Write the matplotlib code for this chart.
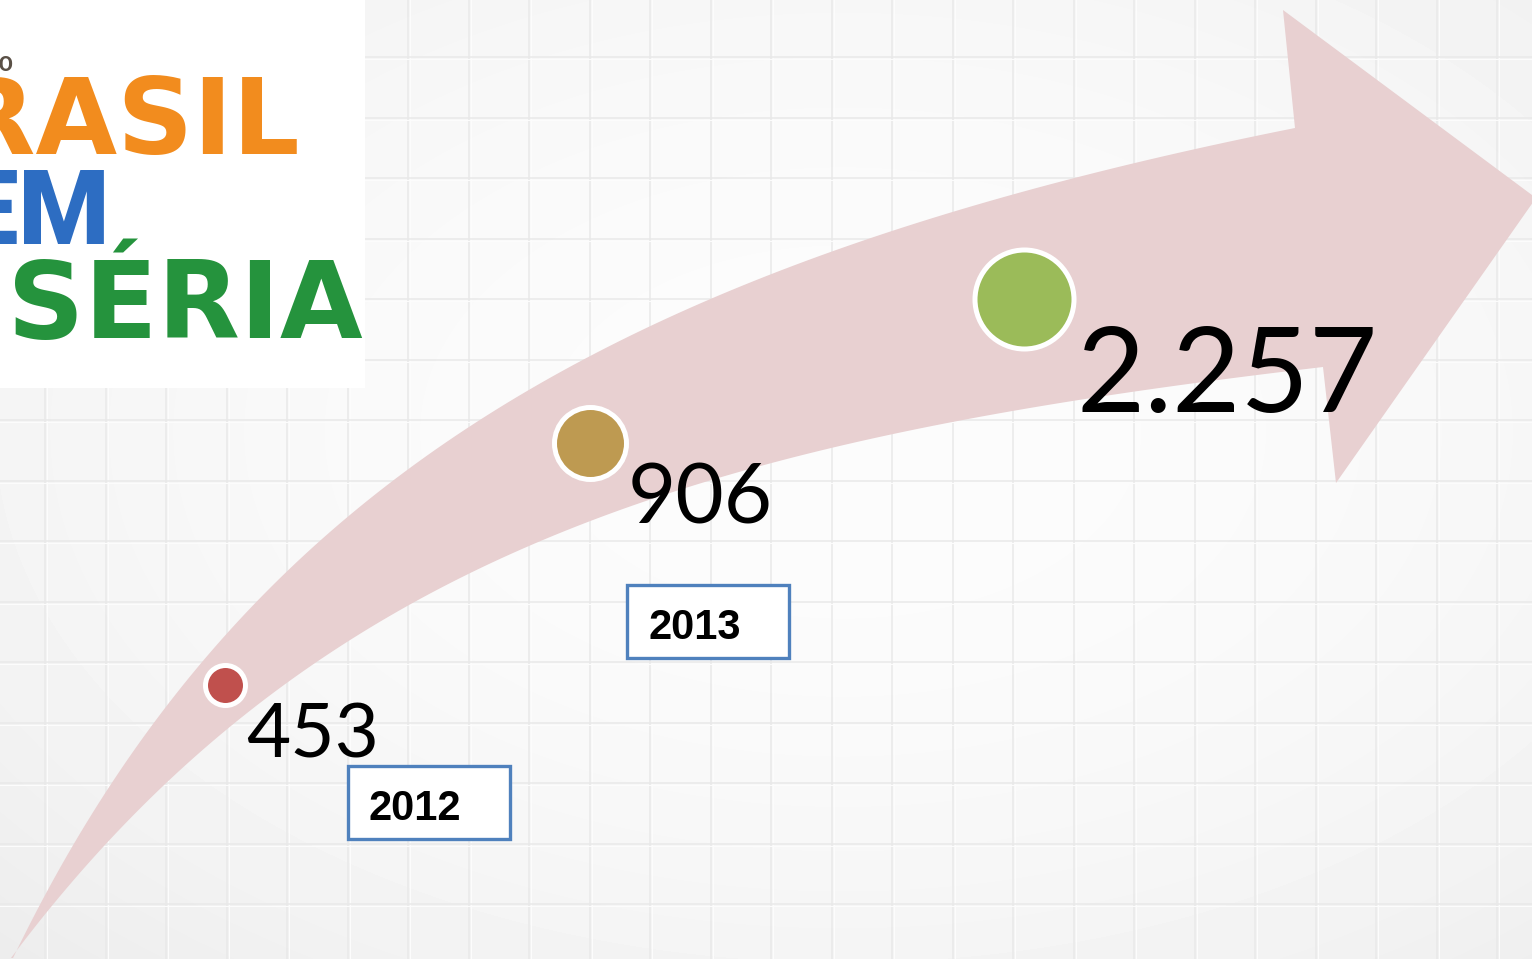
"""
Plano Brasil Sem Miséria - evolução 2012 / 2013 / meta
"""
import numpy as np
import matplotlib
matplotlib.use('Agg')
import matplotlib.pyplot as plt
from matplotlib.path import Path
from matplotlib.patches import PathPatch, Rectangle

# dados
years = ['2012', '2013']
values = [453, 906, 2257]
dot_colors = ['#C0504D', '#BE9A51', '#9BBB59']

# layout (pixels da imagem, y para baixo)
dot_xy = [(225, 685), (590, 443), (1024, 299)]
dot_r = [22.5, 38.5, 52]
label_xy = [(246, 757), (628, 523), (1076, 412)]
label_size = [55, 60, 85]
year_box = [(348, 766), (627, 585)]

W, H = 1532, 959

fig = plt.figure(figsize=(W / 100, H / 100), dpi=100)
ax = fig.add_axes([0, 0, 1, 1])
ax.set_xlim(0, W)
ax.set_ylim(H, 0)
ax.axis('off')

# fundo com leve vinheta
yy, xx = np.mgrid[0:H, 0:W]
rr = np.sqrt(((xx - W * 0.55) / W) ** 2 + ((yy - H * 0.45) / H) ** 2)
bg = 252 - 26 * rr ** 2
bg = np.clip(bg, 0, 255) / 255
ax.imshow(bg, cmap='gray', vmin=0, vmax=1, extent=(0, W, H, 0), zorder=0)

# grade
for gx in np.arange(45, W, 60.5):
    ax.axvline(gx, color='#e9e9e9', lw=1.1, zorder=1)
    ax.axvline(gx + 2, color='#fcfcfc', lw=0.8, zorder=1)
for gy in np.arange(57, H, 60.5):
    ax.axhline(gy, color='#e9e9e9', lw=1.1, zorder=1)
    ax.axhline(gy + 2, color='#fcfcfc', lw=0.8, zorder=1)


def bezier(p0, p1, p2, p3, n=120):
    t = np.linspace(0, 1, n)[:, None]
    p0, p1, p2, p3 = map(np.array, (p0, p1, p2, p3))
    return ((1 - t) ** 3) * p0 + 3 * ((1 - t) ** 2) * t * p1 \
        + 3 * (1 - t) * t ** 2 * p2 + t ** 3 * p3


# seta curva
upper = bezier((13, 958), (239, 490), (609, 265), (1295, 128))
lower = bezier((11, 958), (323, 542), (727, 437), (1323, 367))
head = np.array([(1283, 10), (1536, 198), (1336, 483)])
pts = np.vstack([upper, head, lower[::-1]])
arrow = PathPatch(Path(pts, closed=False), facecolor='#E8D0D1',
                  edgecolor='none', zorder=2)
ax.add_patch(arrow)

# logo
ax.add_patch(Rectangle((0, 0), 365, 388, facecolor='white', edgecolor='none', zorder=3))
ax.text(14, 71, 'PLANO', fontsize=15, fontweight='bold', color='#5a5046',
        ha='right', va='baseline', family='Roboto', zorder=4)
ax.text(300, 154, 'BRASIL', fontsize=76, fontweight='bold', color='#F28C1E',
        ha='right', va='baseline', family='DejaVu Sans', zorder=4)
ax.text(110, 244, 'SEM', fontsize=75, fontweight='black', color='#2D6DC2',
        ha='right', va='baseline', family='Roboto', zorder=4)
ax.text(363, 338, 'MISÉRIA', fontsize=77, fontweight='bold', color='#25933D',
        ha='right', va='baseline', family='DejaVu Sans', zorder=4)

# bolinhas
for (x, y), r, c in zip(dot_xy, dot_r, dot_colors):
    d_pt = 2 * (r - 2.5) * 0.72
    ax.scatter([x], [y], s=d_pt ** 2, color=c, edgecolors='white',
               linewidths=3.6, zorder=5)

# valores
for v, (x, y), fs in zip(values, label_xy, label_size):
    txt = f'{v:,}'.replace(',', '.')
    ax.text(x, y, txt, fontsize=fs, color='black', family='Lato',
            ha='left', va='baseline', zorder=6)

# anos
for yr, (bx, by) in zip(years, year_box):
    ax.add_patch(Rectangle((bx, by), 162, 73, facecolor='white',
                           edgecolor='#4F81BD', lw=2.4, zorder=6))
    ax.text(bx + 21, by + 54, yr, fontsize=30, fontweight='bold',
            family='Liberation Sans', ha='left', va='baseline', zorder=7)

fig.savefig('out.png', dpi=100)
